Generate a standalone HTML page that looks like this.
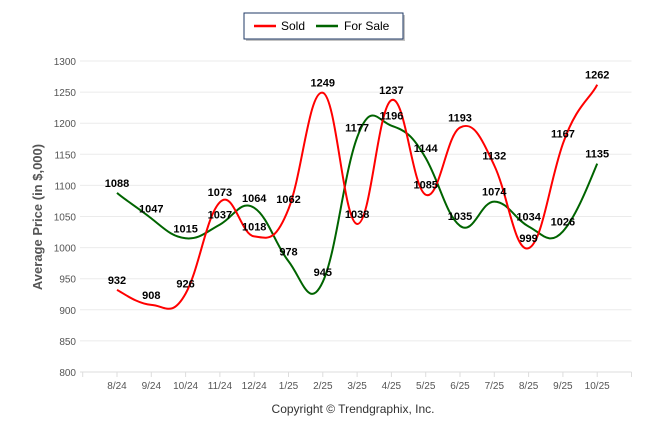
<!DOCTYPE html>
<html><head><meta charset="utf-8"><style>
body{margin:0;background:#fff;font-family:"Liberation Sans",sans-serif}
svg text{font-family:"Liberation Sans",sans-serif}
</style></head><body>
<svg id="c" width="646" height="434">
<g>
<rect x="246" y="15" width="159" height="26" fill="#888" opacity="0.5"/>
<rect x="244" y="13" width="159" height="26" fill="#fff" stroke="#1f3864" stroke-width="1"/>
<line x1="254" y1="26" x2="276" y2="26" stroke="#f00" stroke-width="2.5"/>
<text x="281" y="30" font-size="12" fill="#000">Sold</text>
<line x1="316" y1="26" x2="338" y2="26" stroke="#006400" stroke-width="2.5"/>
<text x="344" y="30" font-size="12" fill="#000">For Sale</text>
</g>
<text transform="translate(42,217) rotate(-90)" text-anchor="middle" font-size="13" font-weight="bold" fill="#555">Average Price (in $,000)</text>
<text x="353" y="413" text-anchor="middle" font-size="12" fill="#333">Copyright © Trendgraphix, Inc.</text>
<g id="grid"></g><g id="marks"></g>
</svg>
<script>
const categories=["8/24","9/24","10/24","11/24","12/24","1/25","2/25","3/25","4/25","5/25","6/25","7/25","8/25","9/25","10/25"];
const soldValues=[932,908,926,1073,1018,1062,1249,1038,1237,1085,1193,1132,999,1167,1262];
const forSaleValues=[1088,1047,1015,1037,1064,978,945,1177,1196,1144,1035,1074,1034,1026,1135];
const yTicks=[800,850,900,950,1000,1050,1100,1150,1200,1250,1300];
const NS="http://www.w3.org/2000/svg";
const x0=82.7,step=34.3;
function xs(i){return x0+step*(i+1);}
function ys(v){return 372-(v-800)*(311/500);}
function mk(t,a,p){const e=document.createElementNS(NS,t);for(const k in a)e.setAttribute(k,a[k]);p.appendChild(e);return e;}
const grid=document.getElementById('grid'),marks=document.getElementById('marks');
const xEnd=x0+step*16;
yTicks.forEach(v=>{
 const l=mk('line',{x1:80,x2:xEnd,y1:ys(v),y2:ys(v),stroke:v===800?'#ddd':'#ebebeb','stroke-width':1},grid);
 
 
 const t=mk('text',{x:76,y:ys(v)+4,'text-anchor':'end','font-size':10,fill:'#555'},grid);
 t.textContent=v;
 
 
});
for(let i=0;i<=16;i++){
 const l=mk('line',{x1:x0+step*i,x2:x0+step*i,y1:372,y2:377,stroke:'#ddd'},grid);
 
 
}
categories.forEach((c,i)=>{
 const t=mk('text',{x:xs(i),y:389,'text-anchor':'middle','font-size':10,fill:'#555'},grid);
 t.textContent=c;
 
 
});
function path(vals){
 const p=vals.map((v,i)=>[xs(i),ys(v)]);
 let d='M'+p[0][0]+','+p[0][1];
 for(let i=0;i<p.length-1;i++){
  const a=p[Math.max(i-1,0)],b=p[i],c=p[i+1],e=p[Math.min(i+2,p.length-1)];
  const k=1/5;
  d+=' C'+(b[0]+(c[0]-a[0])*k)+','+(b[1]+(c[1]-a[1])*k*1.2)+' '+(c[0]-(e[0]-b[0])*k)+','+(c[1]-(e[1]-b[1])*k*1.2)+' '+c[0]+','+c[1];
 }
 return d;
}
function series(vals,color,name){
 const pa=mk('path',{d:path(vals),fill:'none',stroke:color,'stroke-width':2},marks);
 
 
}
series(forSaleValues,'#006400','for-sale');
series(soldValues,'#ff0000','sold');
function labels(vals,name){
 vals.forEach((v,i)=>{
  const t=mk('text',{x:xs(i),y:ys(v)-6,'text-anchor':'middle','font-size':11,'font-weight':'bold',fill:'#000'},marks);
  t.textContent=v;
  
  
 });
}
labels(forSaleValues,'for-sale');
labels(soldValues,'sold');
</script>
</body></html>
